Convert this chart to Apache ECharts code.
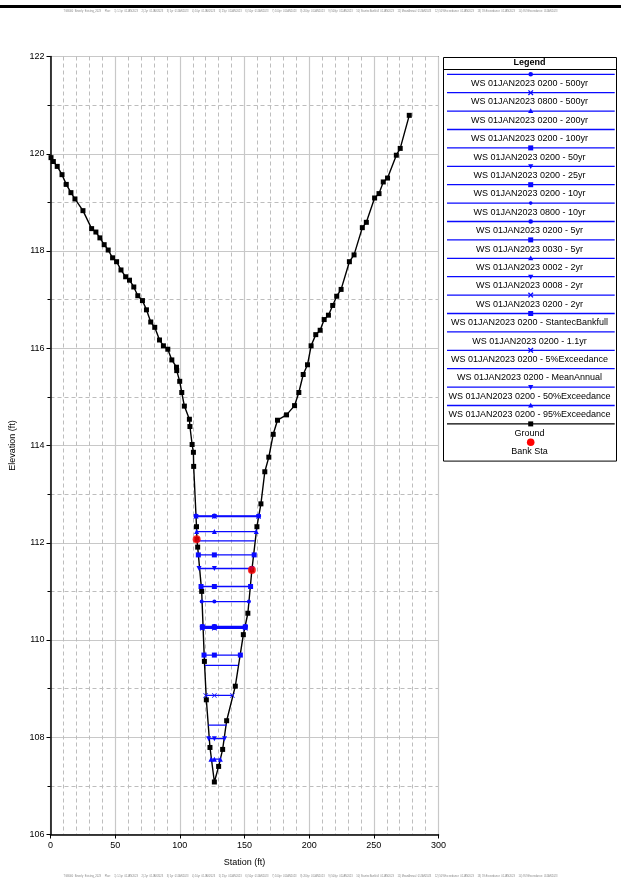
<!DOCTYPE html>
<html>
<head>
<meta charset="utf-8">
<script src="https://cdn.jsdelivr.net/npm/echarts@6/dist/echarts.min.js"></script>
<style>
html,body{margin:0;padding:0;background:#fff;}
#chart{width:621px;height:882px;}
</style>
</head>
<body>
<div id="chart"></div>
<script>
// ---------- DATA ----------
const xTicks = [0, 50, 100, 150, 200, 250, 300];
const yTicks = [106, 108, 110, 112, 114, 116, 118, 120, 122];

const groundSta = [0.4, 2.2, 5.2, 8.9, 12.2, 15.8, 18.9, 25.1, 31.8, 35.1, 38.2, 41.5, 44.6, 48.0, 51.1, 54.5, 58.1, 61.1, 64.4, 67.5, 71.1, 74.2, 77.5, 80.6, 84.3, 87.3, 90.7, 93.8, 97.4, 97.6, 99.9, 101.5, 103.5, 107.4, 107.8, 109.5, 110.5, 110.7, 112.9, 113.2, 113.8, 116.9, 119.0, 120.5, 123.3, 126.7, 130.0, 133.1, 136.2, 142.9, 149.1, 152.6, 155.7, 159.6, 162.7, 165.7, 168.8, 172.2, 175.5, 182.5, 188.7, 192.0, 195.4, 198.7, 201.5, 205.1, 208.5, 211.6, 214.9, 218.2, 221.3, 224.7, 231.1, 234.7, 241.1, 244.2, 250.6, 254.0, 257.3, 260.6, 267.4, 270.4, 277.4];
const groundElev = [119.92, 119.84, 119.74, 119.57, 119.37, 119.20, 119.07, 118.83, 118.46, 118.39, 118.27, 118.13, 118.02, 117.86, 117.78, 117.61, 117.47, 117.40, 117.26, 117.08, 116.98, 116.79, 116.54, 116.43, 116.17, 116.05, 115.98, 115.76, 115.61, 115.54, 115.32, 115.09, 114.81, 114.54, 114.39, 114.02, 113.86, 113.57, 112.33, 112.07, 111.91, 111.00, 109.56, 108.77, 107.79, 107.08, 107.40, 107.75, 108.34, 109.05, 110.11, 110.55, 111.44, 112.33, 112.80, 113.46, 113.76, 114.23, 114.52, 114.63, 114.82, 115.09, 115.46, 115.66, 116.05, 116.28, 116.37, 116.59, 116.68, 116.88, 117.07, 117.21, 117.78, 117.92, 118.48, 118.59, 119.09, 119.18, 119.42, 119.50, 119.97, 120.11, 120.79];

const bankSta = [113.0, 155.7];
const bankElev = [112.07, 111.44];

const wsNames = [
  "WS 01JAN2023 0200 - 500yr",
  "WS 01JAN2023 0800 - 500yr",
  "WS 01JAN2023 0200 - 200yr",
  "WS 01JAN2023 0200 - 100yr",
  "WS 01JAN2023 0200 - 50yr",
  "WS 01JAN2023 0200 - 25yr",
  "WS 01JAN2023 0200 - 10yr",
  "WS 01JAN2023 0800 - 10yr",
  "WS 01JAN2023 0200 - 5yr",
  "WS 01JAN2023 0030 - 5yr",
  "WS 01JAN2023 0002 - 2yr",
  "WS 01JAN2023 0008 - 2yr",
  "WS 01JAN2023 0200 - 2yr",
  "WS 01JAN2023 0200 - StantecBankfull",
  "WS 01JAN2023 0200 - 1.1yr",
  "WS 01JAN2023 0200 - 5%Exceedance",
  "WS 01JAN2023 0200 - MeanAnnual",
  "WS 01JAN2023 0200 - 50%Exceedance",
  "WS 01JAN2023 0200 - 95%Exceedance"
];
const wsElev  = [112.55, 112.54, 112.23, 112.04, 111.75, 111.47, 111.10, 110.79, 110.28, 110.27, 110.26, 110.25, 110.24, 109.69, 109.48, 108.86, 108.25, 107.97, 107.55];
const wsLeft  = [112.5, 112.5, 113.0, 113.1, 114.3, 114.8, 116.4, 116.9, 117.4, 117.4, 117.4, 117.4, 117.4, 118.7, 119.4, 120.0, 122.0, 122.3, 124.1];
const wsRight = [160.9, 160.9, 159.1, 158.0, 157.5, 155.7, 154.7, 153.4, 150.6, 150.6, 150.6, 150.6, 150.6, 146.8, 145.2, 140.6, 136.2, 134.6, 131.3];
const wsMidSta = 126.7;
const wsMarker = ["circle", "x", "tri", "none", "rect", "triDown", "rect", "dot", "circle", "rect", "tri", "triDown", "x", "rect", "none", "x", "none", "triDown", "tri"];

const groundName = "Ground";
const bankName = "Bank Sta";

// ---------- STYLE / BUILD ----------
const BLUE = '#0a0aff';
const FONT = 'Arial, "Liberation Sans", sans-serif';
const xPath = 'path://M1,0L5,4L9,0L10,1L6,5L10,9L9,10L5,6L1,10L0,9L4,5L0,1Z';

function symOf(m) {
  switch (m) {
    case 'circle': return {symbol: 'circle', symbolSize: 5, rot: 0};
    case 'dot': return {symbol: 'circle', symbolSize: 4, rot: 0};
    case 'rect': return {symbol: 'rect', symbolSize: 5, rot: 0};
    case 'tri': return {symbol: 'triangle', symbolSize: 5, rot: 0};
    case 'triDown': return {symbol: 'triangle', symbolSize: 5, rot: 180};
    case 'x': return {symbol: xPath, symbolSize: 5, rot: 0};
    default: return {symbol: 'none', symbolSize: 0, rot: 0};
  }
}

const series = [];
wsNames.forEach((name, i) => {
  const s = symOf(wsMarker[i]);
  series.push({
    name: name,
    type: 'line',
    data: [[wsLeft[i], wsElev[i]], [wsMidSta, wsElev[i]], [wsRight[i], wsElev[i]]],
    symbol: s.symbol,
    symbolSize: s.symbolSize,
    symbolRotate: s.rot,
    showSymbol: s.symbol !== 'none',
    itemStyle: {color: BLUE},
    lineStyle: {color: BLUE, width: 1.3},
    silent: true,
    animation: false,
    z: 3
  });
});
series.push({
  name: groundName,
  type: 'line',
  data: groundSta.map((x, i) => [x, groundElev[i]]),
  symbol: 'rect',
  symbolSize: 5,
  itemStyle: {color: '#000'},
  lineStyle: {color: '#000', width: 1.4},
  animation: false,
  z: 2
});
series.push({
  name: bankName,
  type: 'scatter',
  data: bankSta.map((x, i) => [x, bankElev[i]]),
  symbol: 'circle',
  symbolSize: 8,
  itemStyle: {color: '#ff0000'},
  animation: false,
  z: 5
});

// Legend via graphic
const LX = 443, LY = 57, LW = 173;
const lineX0 = 447, lineX1 = 614.7, markX = 530.7;
const rowH = 18.4, firstLineY = 74.3;
const graphics = [];
const footText = 'TGB000_Beverly_Existing_2023     Plan:     1) 1.1yr  01JAN2023     2) 2yr  01JAN2023     3) 5yr  01JAN2023     4) 10yr  01JAN2023     5) 25yr  01JAN2023     6) 50yr  01JAN2023     7) 100yr  01JAN2023     8) 200yr  01JAN2023     9) 500yr  01JAN2023     10) StantecBankfull  01JAN2023     11) MeanAnnual  01JAN2023     12) 50%Exceedance  01JAN2023     13) 5%Exceedance  01JAN2023     14) 95%Exceedance  01JAN2023';
graphics.push({type: 'rect', shape: {x: 0, y: 5, width: 621, height: 3}, style: {fill: '#000'}});
graphics.push({type: 'text', left: 'center', top: 9.5, style: {text: footText, fontSize: 2.6, fill: '#888', fontFamily: FONT}});
graphics.push({type: 'text', left: 'center', top: 874.5, style: {text: footText, fontSize: 2.6, fill: '#888', fontFamily: FONT}});

const lastLineY = firstLineY + rowH * (wsNames.length);
const legendH = (lastLineY + 9.3 + 18.4 + 9) - LY;
graphics.push({type: 'rect', shape: {x: LX + 0.5, y: LY + 0.5, width: LW, height: legendH}, style: {fill: '#fff', stroke: '#000', lineWidth: 1}, z: 10});
graphics.push({type: 'text', x: LX + LW / 2, y: 63, style: {text: 'Legend', fontSize: 9, fontWeight: 'bold', fontFamily: FONT, fill: '#000', align: 'center', verticalAlign: 'middle'}, z: 11});
graphics.push({type: 'line', shape: {x1: LX, y1: 69.5, x2: LX + LW, y2: 69.5}, style: {stroke: '#000', lineWidth: 1}, z: 11});

function legendMarker(m, cx, cy, color) {
  const out = [];
  if (m === 'circle' || m === 'dot') out.push({type: 'circle', shape: {cx: cx, cy: cy, r: m === 'dot' ? 1.8 : 2.3}, style: {fill: color}, z: 12});
  else if (m === 'rect') out.push({type: 'rect', shape: {x: cx - 2.5, y: cy - 2.5, width: 5, height: 5}, style: {fill: color}, z: 12});
  else if (m === 'tri') out.push({type: 'polygon', shape: {points: [[cx, cy - 2.8], [cx + 2.6, cy + 2], [cx - 2.6, cy + 2]]}, style: {fill: color}, z: 12});
  else if (m === 'triDown') out.push({type: 'polygon', shape: {points: [[cx, cy + 2.8], [cx + 2.6, cy - 2], [cx - 2.6, cy - 2]]}, style: {fill: color}, z: 12});
  else if (m === 'x') {
    out.push({type: 'line', shape: {x1: cx - 2.3, y1: cy - 2.3, x2: cx + 2.3, y2: cy + 2.3}, style: {stroke: color, lineWidth: 1.3}, z: 12});
    out.push({type: 'line', shape: {x1: cx - 2.3, y1: cy + 2.3, x2: cx + 2.3, y2: cy - 2.3}, style: {stroke: color, lineWidth: 1.3}, z: 12});
  }
  return out;
}

wsNames.forEach((name, i) => {
  const ly = firstLineY + rowH * i;
  graphics.push({type: 'line', shape: {x1: lineX0, y1: ly, x2: lineX1, y2: ly}, style: {stroke: BLUE, lineWidth: 1.3}, z: 11});
  legendMarker(wsMarker[i], markX, ly, BLUE).forEach(g => graphics.push(g));
  graphics.push({type: 'text', x: LX + LW / 2, y: ly + 9.3, style: {text: name, fontSize: 9, fontFamily: FONT, fill: '#000', align: 'center', verticalAlign: 'middle'}, z: 11});
});
{
  const ly = lastLineY;
  graphics.push({type: 'line', shape: {x1: lineX0, y1: ly, x2: lineX1, y2: ly}, style: {stroke: '#000', lineWidth: 1.4}, z: 11});
  legendMarker('rect', markX, ly, '#000').forEach(g => graphics.push(g));
  graphics.push({type: 'text', x: LX + LW / 2, y: ly + 9.3, style: {text: groundName, fontSize: 9, fontFamily: FONT, fill: '#000', align: 'center', verticalAlign: 'middle'}, z: 11});
  graphics.push({type: 'circle', shape: {cx: markX, cy: ly + 18.4, r: 3.8}, style: {fill: '#ff0000'}, z: 12});
  graphics.push({type: 'text', x: LX + LW / 2, y: ly + 27.5, style: {text: bankName, fontSize: 9, fontFamily: FONT, fill: '#000', align: 'center', verticalAlign: 'middle'}, z: 11});
}

const chart = echarts.init(document.getElementById('chart'), null, {renderer: 'canvas'});
chart.setOption({
  animation: false,
  backgroundColor: '#fff',
  textStyle: {fontFamily: FONT},
  grid: {left: 50.5, top: 56.5, width: 388, height: 778, show: true, borderColor: '#000', borderWidth: 1, containLabel: false, outerBoundsMode: 'none'},
  xAxis: {
    type: 'value',
    min: xTicks[0], max: xTicks[xTicks.length - 1], interval: xTicks[1] - xTicks[0],
    name: 'Station (ft)', nameLocation: 'middle', nameGap: 24,
    nameTextStyle: {fontSize: 9, color: '#000', fontFamily: FONT},
    axisLine: {show: true, lineStyle: {color: '#000', width: 1.5}},
    axisTick: {show: true, length: 4, lineStyle: {color: '#000'}},
    minorTick: {show: false, splitNumber: 5},
    axisLabel: {fontSize: 9, color: '#000', margin: 7, fontFamily: FONT},
    splitLine: {show: true, lineStyle: {color: '#c8c8c8', width: 1.2}},
    minorSplitLine: {show: true, lineStyle: {color: '#bdbdbd', width: 1, type: [4, 3]}}
  },
  yAxis: {
    type: 'value',
    min: yTicks[0], max: yTicks[yTicks.length - 1], interval: yTicks[1] - yTicks[0],
    name: 'Elevation (ft)', nameLocation: 'middle', nameGap: 33,
    nameTextStyle: {fontSize: 9, color: '#000', fontFamily: FONT},
    axisLine: {show: true, lineStyle: {color: '#000', width: 1.5}},
    axisTick: {show: true, length: 4, lineStyle: {color: '#000'}},
    minorTick: {show: true, splitNumber: 2, length: 3, lineStyle: {color: '#000'}},
    axisLabel: {fontSize: 9, color: '#000', margin: 6, fontFamily: FONT},
    splitLine: {show: true, lineStyle: {color: '#c8c8c8', width: 1.2}},
    minorSplitLine: {show: true, lineStyle: {color: '#bdbdbd', width: 1, type: [4, 3]}}
  },
  series: series,
  graphic: graphics
});
</script>
</body>
</html>
